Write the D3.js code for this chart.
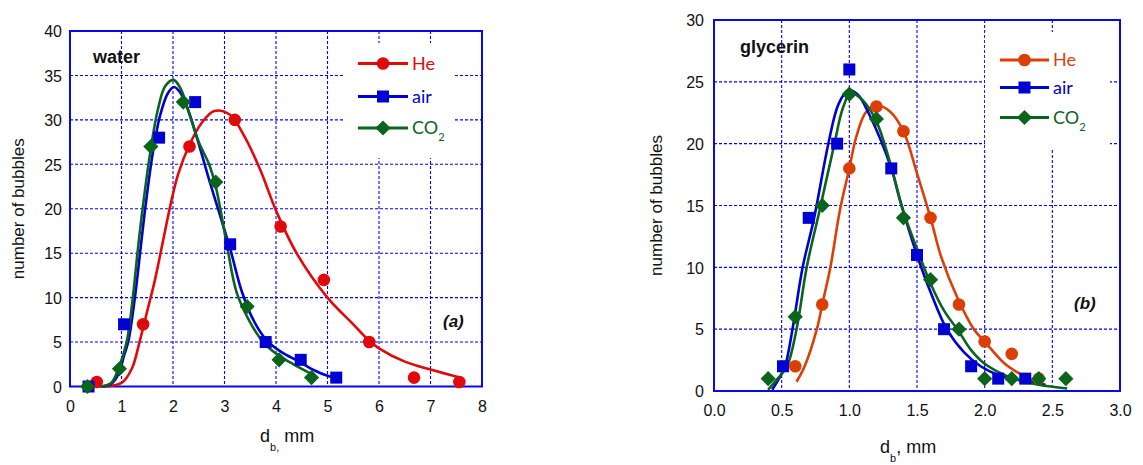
<!DOCTYPE html>
<html>
<head>
<meta charset="utf-8">
<script src="https://cdn.jsdelivr.net/npm/d3@7"></script>
<style>
  body { margin: 0; background: #fff; }
  svg { display: block; }
  text { font-family: "Liberation Sans", Arial, sans-serif; }
</style>
</head>
<body>
<svg id="chart" width="1143" height="465"></svg>
<script>
// ====== DATA ======
// (a) water - measured points [d_b mm, count]
const waterHe  = [[0.52,0.5],[1.42,7],[2.32,27],[3.2,30],[4.09,18],[4.93,12],[5.81,5],[6.68,1],[7.56,0.5]];
const waterAir = [[0.36,0],[1.05,7],[1.73,28],[2.43,32],[3.11,16],[3.8,5],[4.48,3],[5.17,1]];
const waterCO2 = [[0.34,0],[0.96,2],[1.57,27],[2.2,32],[2.83,23],[3.44,9],[4.06,3],[4.69,1]];
// (a) water - fitted curves
const waterHeFit  = [[0.65,0],[1.0,0.4],[1.2,2],[1.35,5],[1.5,8.5],[1.65,12],[1.8,16.2],[1.95,20.4],[2.1,23.9],[2.32,27.2],[2.55,29.6],[2.8,31],[3.1,30.6],[3.4,28],[3.7,24.3],[4.0,19.8],[4.4,15],[5.0,10],[5.5,7],[5.8,5.2],[6.0,4.3],[6.5,2.8],[7.0,1.9],[7.57,1]];
const waterAirFit = [[0.6,0],[0.8,0.3],[0.95,1.5],[1.05,3.5],[1.13,5],[1.26,10],[1.36,15],[1.46,20],[1.6,26],[1.75,30.5],[1.9,33],[2.02,33.7],[2.15,33],[2.3,31],[2.5,27.3],[2.7,23.3],[2.9,19.5],[3.11,15.5],[3.33,10.8],[3.55,7.6],[3.82,5.2],[4.1,3.9],[4.45,2.8],[4.75,1.8],[5.0,1.2],[5.18,0.9]];
const waterCO2Fit = [[0.58,0],[0.8,0.4],[0.94,2],[1.1,5],[1.22,10],[1.31,15],[1.41,20],[1.55,26],[1.7,31],[1.85,33.8],[2.01,34.5],[2.15,33.5],[2.3,31],[2.5,27.5],[2.7,25],[2.83,22.5],[2.95,19],[3.06,15.5],[3.24,10.5],[3.5,7.2],[3.75,5],[4.05,3.5],[4.34,2.5],[4.73,1.3]];

// (b) glycerin - measured points
const glyHe  = [[0.6,2],[0.8,7],[1.0,18],[1.2,23],[1.4,21],[1.6,14],[1.81,7],[2.0,4],[2.2,3],[2.4,1]];
const glyAir = [[0.51,2],[0.7,14],[0.91,20],[1.0,26],[1.31,18],[1.5,11],[1.7,5],[1.9,2],[2.1,1],[2.3,1]];
const glyCO2 = [[0.4,1],[0.6,6],[0.8,15],[1.0,24],[1.2,22],[1.4,14],[1.6,9],[1.81,5],[2.0,1],[2.2,1],[2.4,1],[2.6,1]];
// (b) glycerin - fitted curves
const glyHeFit  = [[0.61,0.75],[0.67,2],[0.76,5],[0.8,7],[0.86,10],[0.93,14.6],[1.0,18],[1.05,20.5],[1.12,22.5],[1.2,23.1],[1.3,22.6],[1.4,21],[1.5,17.6],[1.6,14],[1.68,10.8],[1.8,7.5],[1.92,5],[2.0,4],[2.16,2.1],[2.31,1.1],[2.38,0.75]];
const glyAirFit = [[0.43,0.1],[0.48,1],[0.525,2],[0.58,5],[0.655,10],[0.74,14],[0.845,20],[0.92,23.2],[0.99,24.3],[1.06,24],[1.15,22.3],[1.31,18],[1.375,15.4],[1.5,11],[1.6,8],[1.72,5],[1.85,3.1],[1.97,2],[2.1,1.3],[2.3,0.8],[2.45,0.5]];
const glyCO2Fit = [[0.4,0.1],[0.47,1],[0.54,2],[0.61,5],[0.685,10],[0.78,14.6],[0.89,20],[0.95,22.8],[1.01,24.1],[1.1,23.5],[1.2,21.8],[1.3,18.5],[1.4,14.5],[1.5,11.5],[1.6,8.7],[1.7,6.5],[1.81,4.8],[1.9,3.3],[2.0,2.2],[2.19,1.1],[2.4,0.5],[2.61,0.2]];

// ticks
const waterXTicks = [0,1,2,3,4,5,6,7,8];
const waterYTicks = [0,5,10,15,20,25,30,35,40];
const glyXTicks = [0,0.5,1.0,1.5,2.0,2.5,3.0];
const glyYTicks = [0,5,10,15,20,25,30];

// ====== HELPERS ======
const svg = d3.select('#chart');
const gridBlue = '#0000ff';
const frameBlue = '#0808e8';

function drawMarker(g, shape, color, x, y) {
    if (shape === 'circle') {
        g.append('circle').attr('cx', x).attr('cy', y).attr('r', 6.3).attr('fill', color);
    } else if (shape === 'square') {
        g.append('rect').attr('x', x - 6).attr('y', y - 6).attr('width', 12).attr('height', 12).attr('fill', color);
    } else {
        const s = 7.6;
        g.append('path')
            .attr('d', `M${x},${y - s}L${x + s},${y}L${x},${y + s}L${x - s},${y}Z`)
            .attr('fill', color);
    }
}

function drawPanel(cfg) {
    const x = d3.scaleLinear().domain(cfg.xDomain).range([cfg.left, cfg.right]);
    const y = d3.scaleLinear().domain(cfg.yDomain).range([cfg.bottom, cfg.top]);
    const g = svg.append('g');

    // grid
    g.selectAll('.vgrid').data(cfg.xTicks.slice(1, -1)).enter().append('line')
        .attr('x1', d => x(d)).attr('x2', d => x(d))
        .attr('y1', cfg.top).attr('y2', cfg.bottom)
        .attr('stroke', gridBlue).attr('stroke-width', 1.1).attr('stroke-dasharray', '3,2');
    g.selectAll('.hgrid').data(cfg.yTicks.slice(1, -1)).enter().append('line')
        .attr('x1', cfg.left).attr('x2', cfg.right)
        .attr('y1', d => y(d)).attr('y2', d => y(d))
        .attr('stroke', gridBlue).attr('stroke-width', 1.1).attr('stroke-dasharray', '3,2');

    // legend box hides grid
    g.append('rect')
        .attr('x', cfg.legendBox[0]).attr('y', cfg.legendBox[1])
        .attr('width', cfg.legendBox[2]).attr('height', cfg.legendBox[3])
        .attr('fill', '#fff');

    // frame
    g.append('rect')
        .attr('x', cfg.left).attr('y', cfg.top)
        .attr('width', cfg.right - cfg.left).attr('height', cfg.bottom - cfg.top)
        .attr('fill', 'none').attr('stroke', frameBlue).attr('stroke-width', 2);

    // axes (labels only)
    const xAxis = d3.axisBottom(x).tickValues(cfg.xTicks).tickSize(0).tickPadding(0).tickFormat(cfg.xFormat);
    const xa = g.append('g').attr('transform', `translate(0,${cfg.xLabelY})`).call(xAxis);
    const yAxis = d3.axisLeft(y).tickValues(cfg.yTicks).tickSize(0).tickPadding(0).tickFormat(d3.format('d'));
    const ya = g.append('g').attr('transform', `translate(${cfg.yLabelX},0)`).call(yAxis);
    [xa, ya].forEach(a => {
        a.select('.domain').remove();
        a.selectAll('text').attr('font-size', 16).attr('fill', '#111')
            .attr('font-family', '"Liberation Sans", Arial, sans-serif');
    });
    xa.selectAll('text').attr('dy', 0).attr('y', 0);
    ya.selectAll('text').attr('dy', '0.36em');

    // curves
    const line = d3.line().x(d => x(d[0])).y(d => y(d[1])).curve(d3.curveCatmullRom.alpha(0.5));
    cfg.series.forEach(s => {
        g.append('path').datum(s.fit).attr('d', line)
            .attr('fill', 'none').attr('stroke', s.color).attr('stroke-width', 2.6);
    });
    // points
    cfg.series.forEach(s => {
        s.points.forEach(p => drawMarker(g, s.shape, s.color, x(p[0]), y(p[1])));
    });

    // legend
    cfg.series.forEach((s, i) => {
        const ly = cfg.legend.y[i];
        g.append('line')
            .attr('x1', cfg.legend.x1).attr('x2', cfg.legend.x2).attr('y1', ly).attr('y2', ly)
            .attr('stroke', s.color).attr('stroke-width', 3);
        drawMarker(g, s.shape, s.color, (cfg.legend.x1 + cfg.legend.x2) / 2, ly);
        const t = g.append('text')
            .attr('x', cfg.legend.tx).attr('y', ly + 6)
            .attr('fill', s.color).attr('font-size', cfg.legend.size)
            .style('font-family', 'Lato, "Open Sans", sans-serif');
        if (s.name === 'CO2') {
            t.append('tspan').text('CO');
            t.append('tspan').text('2').attr('font-size', cfg.legend.size * 0.62).attr('dy', 7);
        } else {
            t.text(s.name);
        }
    });

    // fluid label and panel letter
    g.append('text').attr('x', cfg.fluid[1]).attr('y', cfg.fluid[2])
        .attr('font-size', 18).attr('font-weight', 'bold').attr('fill', '#111').text(cfg.fluid[0]);
    g.append('text').attr('x', cfg.panel[1]).attr('y', cfg.panel[2])
        .attr('font-size', 17).attr('font-weight', 'bold').attr('font-style', 'italic')
        .attr('fill', '#111').text(cfg.panel[0]);

    // y title
    g.append('text')
        .attr('transform', `translate(${cfg.yTitleX},${(cfg.top + cfg.bottom) / 2}) rotate(-90)`)
        .attr('text-anchor', 'middle').attr('font-size', 17).attr('fill', '#111')
        .text('number of bubbles');

    // x title
    const xt = g.append('text').attr('x', cfg.xTitle.x).attr('y', cfg.xTitle.y)
        .attr('font-size', 18).attr('fill', '#111');
    xt.append('tspan').text('d');
    xt.append('tspan').text(cfg.xTitle.sub).attr('font-size', 11).attr('dy', 9);
    xt.append('tspan').text(cfg.xTitle.rest).attr('dy', -9);
}

// ====== PANELS ======
drawPanel({
    left: 70, right: 482, top: 31, bottom: 386.5,
    xDomain: [0, 8], yDomain: [0, 40],
    xTicks: waterXTicks, yTicks: waterYTicks,
    xFormat: d3.format('d'),
    xLabelY: 412, yLabelX: 62,
    legendBox: [345, 43, 110, 115],
    legend: { x1: 358, x2: 408, tx: 412, y: [63.5, 96.5, 128], size: 18 },
    fluid: ['water', 93, 63],
    panel: ['(a)', 443, 327],
    yTitleX: 24,
    xTitle: { x: 260, y: 442, sub: 'b,', rest: '  mm' },
    series: [
        { name: 'He', color: '#e10a0a', shape: 'circle', points: waterHe, fit: waterHeFit },
        { name: 'air', color: '#0000d4', shape: 'square', points: waterAir, fit: waterAirFit },
        { name: 'CO2', color: '#0b641c', shape: 'diamond', points: waterCO2, fit: waterCO2Fit }
    ]
});

drawPanel({
    left: 714, right: 1120, top: 20, bottom: 391,
    xDomain: [0, 3], yDomain: [0, 30],
    xTicks: glyXTicks, yTicks: glyYTicks,
    xFormat: d3.format('.1f'),
    xLabelY: 416, yLabelX: 704,
    legendBox: [985, 32, 125, 118],
    legend: { x1: 1000, x2: 1049, tx: 1053, y: [60, 87.5, 117.5], size: 18 },
    fluid: ['glycerin', 740, 53],
    panel: ['(b)', 1074, 309],
    yTitleX: 662,
    xTitle: { x: 880, y: 453, sub: 'b', rest: ', mm' },
    series: [
        { name: 'He', color: '#dc3f06', shape: 'circle', points: glyHe, fit: glyHeFit },
        { name: 'air', color: '#0000d4', shape: 'square', points: glyAir, fit: glyAirFit },
        { name: 'CO2', color: '#0b641c', shape: 'diamond', points: glyCO2, fit: glyCO2Fit }
    ]
});
</script>
</body>
</html>
